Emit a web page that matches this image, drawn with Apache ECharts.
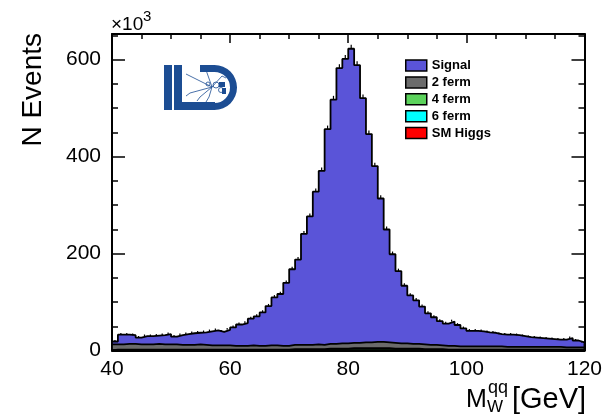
<!DOCTYPE html>
<html>
<head>
<meta charset="utf-8">
<script src="https://cdn.jsdelivr.net/npm/echarts@6/dist/echarts.min.js"></script>
<style>
  html, body { margin: 0; padding: 0; background: #fff; }
  #chart { width: 605px; height: 415px; }
</style>
</head>
<body>
<div id="chart"></div>
<script>
// === Données : bins de 1 GeV de 40 à 120 GeV (x10^3 événements) ===
const binLow = 40;
const binWidth = 1;

const signal = [
  6, 20, 19, 18, 14, 17, 17, 17, 19, 21,
  16, 20, 22, 24, 24, 26, 29, 31, 28, 32,
  38, 44, 47, 55, 61, 69, 81, 99, 107, 130,
  156, 176, 229, 265, 315, 359, 443, 504, 568, 587,
  607, 573, 504, 430, 363, 296, 233, 183, 149, 119,
  100, 90, 78, 65, 57, 50, 46, 50, 44, 37,
  32, 32, 31, 29, 28, 25, 25, 25, 24, 22,
  20, 19, 18, 17, 16, 15, 16, 19, 14, 10
];
const ferm2 = [
  11, 11, 12, 12, 11, 11, 11, 12, 11, 11,
  11, 10, 10, 10, 11, 10, 9, 9, 9, 9,
  8, 8, 8, 9, 8, 8, 9, 9, 8, 8,
  9, 9, 9, 9, 10, 9, 10, 10, 11, 11,
  11, 11, 12, 12, 13, 13, 12, 12, 11, 11,
  10, 10, 10, 9, 9, 8, 8, 8, 7, 7,
  7, 7, 7, 7, 7, 7, 6, 6, 6, 6,
  6, 6, 6, 6, 6, 6, 5, 5, 5, 5
];
const ferm4 = [
  1, 1, 1, 1, 1, 1, 1, 1, 1, 1,
  1, 1, 1, 1, 1, 1, 1, 1, 1, 1,
  1, 1, 1, 1, 1, 1, 1, 1, 1, 1,
  2, 2, 2, 2, 2, 2, 3, 3, 3, 3,
  4, 4, 4, 4, 4, 4, 4, 3, 3, 3,
  3, 3, 2, 2, 2, 2, 1, 1, 1, 1,
  1, 1, 1, 1, 1, 1, 1, 1, 1, 1,
  1, 1, 1, 1, 1, 1, 1, 1, 1, 1
];
const ferm6 = [
  0.4, 0.4, 0.4, 0.4, 0.4, 0.4, 0.4, 0.4, 0.4, 0.4,
  0.4, 0.4, 0.4, 0.4, 0.4, 0.4, 0.4, 0.4, 0.4, 0.4,
  0.4, 0.4, 0.4, 0.4, 0.4, 0.4, 0.4, 0.4, 0.4, 0.4,
  0.4, 0.4, 0.4, 0.4, 0.4, 0.4, 0.4, 0.4, 0.4, 0.4,
  0.4, 0.4, 0.4, 0.4, 0.4, 0.4, 0.4, 0.4, 0.4, 0.4,
  0.4, 0.4, 0.4, 0.4, 0.4, 0.4, 0.4, 0.4, 0.4, 0.4,
  0.4, 0.4, 0.4, 0.4, 0.4, 0.4, 0.4, 0.4, 0.4, 0.4,
  0.4, 0.4, 0.4, 0.4, 0.4, 0.4, 0.4, 0.4, 0.4, 0.4
];
const smHiggs = [
  0.2, 0.2, 0.2, 0.2, 0.2, 0.2, 0.2, 0.2, 0.2, 0.2,
  0.2, 0.2, 0.2, 0.2, 0.2, 0.2, 0.2, 0.2, 0.2, 0.2,
  0.2, 0.2, 0.2, 0.2, 0.2, 0.2, 0.2, 0.2, 0.2, 0.2,
  0.2, 0.2, 0.2, 0.2, 0.2, 0.2, 0.2, 0.2, 0.2, 0.2,
  0.2, 0.2, 0.2, 0.2, 0.2, 0.2, 0.2, 0.2, 0.2, 0.2,
  0.2, 0.2, 0.2, 0.2, 0.2, 0.2, 0.2, 0.2, 0.2, 0.2,
  0.2, 0.2, 0.2, 0.2, 0.2, 0.2, 0.2, 0.2, 0.2, 0.2,
  0.2, 0.2, 0.2, 0.2, 0.2, 0.2, 0.2, 0.2, 0.2, 0.2
];

const xMin = 40, xMax = 120, xStep = 20;
const yMin = 0, yMax = 653, yStep = 200;

const FONT = "'Liberation Sans', Arial, Helvetica, sans-serif";
const ILD_BLUE = "#1c4d93";

// ordre d'empilement, du bas vers le haut
const couches = [
  { name: "SM Higgs", data: smHiggs, color: "#ff0000" },
  { name: "6 ferm", data: ferm6, color: "#00ffff" },
  { name: "4 ferm", data: ferm4, color: "#5cd35c" },
  { name: "2 ferm", data: ferm2, color: "#6b6b6b" },
  { name: "Signal", data: signal, color: "#5a54d8" }
];

// points en escalier : bord gauche de chaque bin + fermeture à droite
function pointsEscalier(values) {
  const pts = [[binLow, 0]];
  values.forEach((v, i) => pts.push([binLow + i * binWidth, v]));
  const xEnd = binLow + values.length * binWidth;
  pts.push([xEnd, values[values.length - 1]]);
  pts.push([xEnd, 0]);
  return pts;
}

// sommes cumulées (THStack)
let cumul = new Array(signal.length).fill(0);
const series = [];
couches.forEach((c, k) => {
  cumul = cumul.map((s, i) => s + c.data[i]);
  series.push({
    name: c.name,
    type: "line",
    step: "end",
    symbol: "none",
    silent: true,
    z: 10 - k,
    data: pointsEscalier(cumul),
    lineStyle: { color: "#000", width: 1.8 },
    itemStyle: { color: c.color },
    areaStyle: { color: c.color, opacity: 1 }
  });
});
series.reverse();

// petits traits d'erreur au centre de chaque bin (sommet de la pile)
series.push({
  type: "custom",
  silent: true,
  z: 20,
  data: cumul.map((v, i) => [binLow + (i + 0.5) * binWidth, v]),
  renderItem: (params, api) => {
    const v = api.value(1);
    const p = api.coord([api.value(0), v]);
    const len = 1 + 3 * Math.sqrt(v / 600);
    return {
      type: "line",
      shape: { x1: p[0], y1: p[1], x2: p[0], y2: p[1] - len },
      style: { stroke: "#000", lineWidth: 1.2 }
    };
  }
});

const chart = echarts.init(document.getElementById("chart"), null, { renderer: "canvas" });

const axeX = {
  type: "value", min: xMin, max: xMax, interval: xStep,
  axisLine: { show: true, onZero: false, lineStyle: { color: "#000", width: 2 } },
  axisTick: { show: true, inside: true, length: 9, lineStyle: { color: "#000", width: 1.5 } },
  minorTick: { show: true, splitNumber: 4, length: 5, lineStyle: { color: "#000", width: 1.5 } },
  splitLine: { show: false }
};
const axeY = {
  type: "value", min: yMin, max: yMax, interval: yStep,
  axisLine: { show: true, onZero: false, lineStyle: { color: "#000", width: 2 } },
  axisTick: { show: true, inside: true, length: 13, lineStyle: { color: "#000", width: 1.5 } },
  minorTick: { show: true, splitNumber: 4, length: 6, lineStyle: { color: "#000", width: 1.5 } },
  splitLine: { show: false }
};

const trait = { stroke: ILD_BLUE, lineWidth: 0.8, fill: null };

const option = {
  backgroundColor: "#fff",
  animation: false,
  grid: { left: 112, right: 16, top: 34, bottom: 64.5 },
  xAxis: [
    Object.assign({}, axeX, {
      position: "bottom",
      axisLabel: { color: "#000", fontSize: 21, fontFamily: FONT, margin: 8 }
    }),
    Object.assign({}, axeX, { position: "top", axisLabel: { show: false } })
  ],
  yAxis: [
    Object.assign({}, axeY, {
      position: "left",
      axisLabel: { color: "#000", fontSize: 21, fontFamily: FONT, margin: 11, showMaxLabel: false }
    }),
    Object.assign({}, axeY, { position: "right", axisLabel: { show: false } })
  ],
  legend: {
    left: 400, top: 54, orient: "vertical",
    icon: "rect", itemWidth: 21, itemHeight: 11, itemGap: 3.9,
    selectedMode: false,
    textStyle: { color: "#000", fontSize: 13, fontWeight: "bold", fontFamily: FONT, lineHeight: 11 },
    data: ["Signal", "2 ferm", "4 ferm", "6 ferm", "SM Higgs"].map(n => ({
      name: n,
      itemStyle: {
        color: couches.find(c => c.name === n).color,
        borderColor: "#000", borderWidth: 1.5
      }
    }))
  },
  series: series,
  graphic: [
    // titre axe Y
    {
      type: "text", x: 33, y: 33, rotation: Math.PI / 2,
      style: { text: "N Events", fontSize: 28, fontFamily: FONT, fill: "#000", align: "right", verticalAlign: "middle" }
    },
    // titre axe X : M_W^qq [GeV]
    { type: "text", x: 466, y: 400, style: { text: "M", fontSize: 25, fontFamily: FONT, fill: "#000", align: "left", verticalAlign: "middle" } },
    { type: "text", x: 488, y: 388, style: { text: "qq", fontSize: 18, fontFamily: FONT, fill: "#000", align: "left", verticalAlign: "middle" } },
    { type: "text", x: 487, y: 407, style: { text: "W", fontSize: 17, fontFamily: FONT, fill: "#000", align: "left", verticalAlign: "middle" } },
    { type: "text", x: 512, y: 400, style: { text: "[GeV]", fontSize: 29, fontFamily: FONT, fill: "#000", align: "left", verticalAlign: "middle" } },
    // facteur d'échelle
    { type: "text", x: 111, y: 25, style: { text: "\u00d710", fontSize: 19, fontFamily: FONT, fill: "#000", align: "left", verticalAlign: "middle" } },
    { type: "text", x: 143, y: 17, style: { text: "3", fontSize: 15, fontFamily: FONT, fill: "#000", align: "left", verticalAlign: "middle" } },
    // logo ILD
    {
      type: "group", z: 50,
      children: [
        { type: "rect", shape: { x: 164, y: 65, width: 8, height: 45 }, style: { fill: ILD_BLUE } },
        { type: "rect", shape: { x: 174, y: 65, width: 8, height: 45 }, style: { fill: ILD_BLUE } },
        { type: "rect", shape: { x: 174, y: 102, width: 41, height: 8 }, style: { fill: ILD_BLUE } },
        { type: "rect", shape: { x: 200, y: 65, width: 15, height: 7 }, style: { fill: ILD_BLUE } },
        {
          type: "sector",
          shape: { cx: 214.5, cy: 87.5, r: 22.5, r0: 15.5, startAngle: -Math.PI / 2, endAngle: Math.PI / 2, clockwise: true },
          style: { fill: ILD_BLUE }
        },
        { type: "polyline", shape: { points: [[212, 87], [186, 74]] }, style: trait },
        { type: "polyline", shape: { points: [[212, 87], [190, 93], [186, 96]] }, style: trait },
        { type: "polyline", shape: { points: [[212, 87], [200, 97], [197, 101]] }, style: trait },
        { type: "polyline", shape: { points: [[212, 87], [206, 70]] }, style: trait },
        { type: "polyline", shape: { points: [[212, 87], [209, 97], [206, 102]] }, style: trait },
        { type: "polyline", shape: { points: [[212, 87], [222, 76], [226, 78]] }, style: trait },
        { type: "circle", shape: { cx: 216, cy: 85, r: 3 }, style: trait },
        { type: "circle", shape: { cx: 221, cy: 90, r: 2.5 }, style: trait },
        { type: "rect", shape: { x: 219, y: 82, width: 6, height: 5 }, style: { fill: ILD_BLUE } },
        { type: "rect", shape: { x: 222, y: 88, width: 4, height: 6 }, style: { fill: ILD_BLUE } },
        { type: "circle", shape: { cx: 208, cy: 84, r: 2 }, style: trait }
      ]
    }
  ]
};

chart.setOption(option);
window.addEventListener("resize", () => chart.resize());
</script>
</body>
</html>
